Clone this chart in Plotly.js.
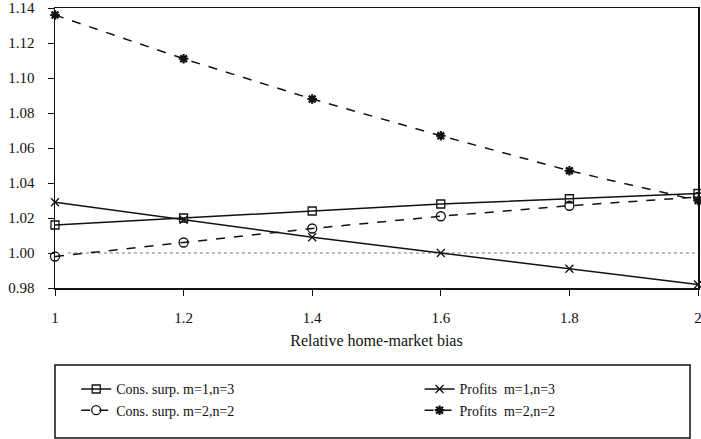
<!DOCTYPE html>
<html>
<head>
<meta charset="utf-8">
<script src="https://cdn.plot.ly/plotly-3.0.1.min.js"></script>
<style>html,body{margin:0;padding:0;background:#fff}#chart{width:701px;height:439px}</style>
</head>
<body>
<div id="chart"></div>
<script>
// Data
const bias = [1, 1.2, 1.4, 1.6, 1.8, 2];
const consSurpM1N3 = [1.016, 1.020, 1.024, 1.028, 1.031, 1.034];
const consSurpM2N2 = [0.998, 1.006, 1.014, 1.021, 1.027, 1.032];
const profitsM1N3  = [1.029, 1.019, 1.009, 1.000, 0.991, 0.982];
const profitsM2N2  = [1.136, 1.111, 1.088, 1.067, 1.047, 1.030];
const seriesNames = ["Cons. surp. m=1,n=3", "Cons. surp. m=2,n=2",
                     "Profits\u00a0 m=1,n=3", "Profits\u00a0 m=2,n=2"];
const referenceLevel = 1.0;
const xTicks = [1, 1.2, 1.4, 1.6, 1.8, 2];
const xTickText = ["1", "1.2", "1.4", "1.6", "1.8", "2"];
const yTicks = [0.98, 1.00, 1.02, 1.04, 1.06, 1.08, 1.10, 1.12, 1.14];

const FONT = "Liberation Serif, DejaVu Serif, serif";

function tr(y, name, dash, symbol, size, legend) {
  return {
    x: bias, y: y, name: name, type: "scatter", mode: "lines+markers",
    line: {color: "#111", width: 1.5, dash: dash},
    marker: {symbol: symbol, size: size, color: "#111",
             line: {color: "#111", width: 1.3}},
    legend: legend, cliponaxis: false
  };
}

const traces = [
  tr(consSurpM1N3, seriesNames[0], "solid", "square-open", 8, "legend"),
  tr(consSurpM2N2, seriesNames[1], "dash", "circle-open", 9, "legend"),
  tr(profitsM1N3, seriesNames[2], "solid", "x-thin-open", 8, "legend2"),
  tr(profitsM2N2, seriesNames[3], "dash", "asterisk-open", 8, "legend2")
];
traces[3].marker.line.width = 2.2;

const legendCommon = {
  bgcolor: "rgba(0,0,0,0)", borderwidth: 0,
  font: {family: FONT, size: 14, color: "#111"},
  xanchor: "left", yanchor: "top", orientation: "v",
  itemwidth: 30, tracegroupgap: 0
};

const layout = {
  width: 701, height: 439,
  margin: {l: 54.5, r: 3, t: 8, b: 151},
  paper_bgcolor: "#fff", plot_bgcolor: "#fff",
  font: {family: FONT, size: 15, color: "#111"},
  showlegend: true,
  legend: Object.assign({x: 0.033, y: -0.305}, legendCommon),
  legend2: Object.assign({x: 0.567, y: -0.305}, legendCommon),
  xaxis: {
    range: [1, 2], tickvals: xTicks, ticktext: xTickText,
    showgrid: false, zeroline: false,
    showline: true, linecolor: "#111", linewidth: 1.5, mirror: true,
    ticks: "outside", ticklen: 6, tickwidth: 1, tickcolor: "#111",
    ticklabelstandoff: 9, ticklabeloverflow: "allow",
    tickfont: {family: FONT, size: 15},
    title: {text: "Relative home-market bias", font: {family: FONT, size: 16}, standoff: 10}
  },
  yaxis: {
    range: [0.98, 1.14], tickvals: yTicks, tickformat: ".2f",
    showgrid: false, zeroline: false,
    showline: true, linecolor: "#111", linewidth: 1.5, mirror: true,
    ticks: "outside", ticklen: 6, tickwidth: 1, tickcolor: "#111",
    ticklabelstandoff: 10, ticklabeloverflow: "allow",
    tickfont: {family: FONT, size: 15}
  },
  shapes: [
    {type: "line", xref: "paper", yref: "y", x0: 0.02, x1: 1,
     y0: referenceLevel, y1: referenceLevel,
     line: {color: "#777", width: 1, dash: "dot"}, layer: "below"},
    {type: "rect", xref: "paper", yref: "paper", x0: 0.0, x1: 0.9876,
     y0: -0.536, y1: -0.275, line: {color: "#111", width: 1.5}}
  ]
};

Plotly.newPlot("chart", traces, layout, {displayModeBar: false, staticPlot: true});
</script>
</body>
</html>
